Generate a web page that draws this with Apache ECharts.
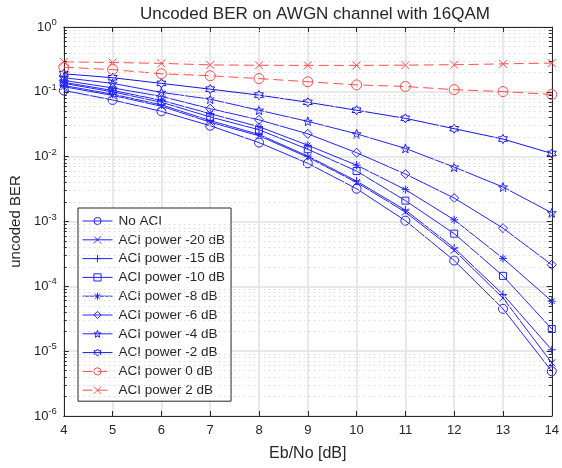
<!DOCTYPE html>
<html>
<head>
<meta charset="utf-8">
<script src="https://cdn.jsdelivr.net/npm/echarts@6/dist/echarts.min.js"></script>
<style>
  html, body { margin: 0; padding: 0; background: #fff; }
  #chart { width: 562px; height: 468px; }
</style>
</head>
<body>
<div id="chart"></div>
<script>
// Eb/No axis
const ebno = [4, 5, 6, 7, 8, 9, 10, 11, 12, 13, 14];

// BER values
const berNoAci = [0.105, 0.075, 0.05, 0.030, 0.0165, 0.0079, 0.0032, 0.00103, 0.00025, 0.000045, 0.0000049];
const berAciM20 = [0.12, 0.088, 0.06, 0.034, 0.021, 0.0098, 0.0040, 0.0014, 0.00036, 0.000066, 0.0000066];
const berAciM15 = [0.125, 0.092, 0.063, 0.036, 0.022, 0.0102, 0.0042, 0.0015, 0.00039, 0.000075, 0.0000105];
const berAciM10 = [0.135, 0.10, 0.069, 0.041, 0.026, 0.0130, 0.0060, 0.0021, 0.00065, 0.000145, 0.000022];
const berAciM8 = [0.14, 0.105, 0.074, 0.046, 0.029, 0.0150, 0.0074, 0.0031, 0.00106, 0.00027, 0.000059];
const berAciM6 = [0.15, 0.115, 0.085, 0.055, 0.037, 0.0225, 0.0115, 0.0054, 0.0023, 0.00079, 0.000215];
const berAciM4 = [0.165, 0.135, 0.098, 0.077, 0.052, 0.035, 0.0225, 0.0134, 0.0069, 0.0034, 0.00136];
const berAciM2 = [0.19, 0.165, 0.135, 0.11, 0.089, 0.069, 0.052, 0.039, 0.027, 0.0187, 0.0112];
const berAci0 = [0.24, 0.22, 0.19, 0.177, 0.16, 0.143, 0.128, 0.121, 0.108, 0.101, 0.091];
const berAci2 = [0.29, 0.283, 0.275, 0.26, 0.257, 0.256, 0.256, 0.258, 0.262, 0.27, 0.278];

const seriesNames = ['No ACI', 'ACI power -20 dB', 'ACI power -15 dB', 'ACI power -10 dB',
  'ACI power -8 dB', 'ACI power -6 dB', 'ACI power -4 dB', 'ACI power -2 dB',
  'ACI power 0 dB', 'ACI power 2 dB'];

const BLUE = '#2323ff';
const RED = '#ff4d4d';
const INK = '#262626';
const FONT = '"Liberation Sans", Arial, sans-serif';

// marker shapes (matlab style, outline only)
function starPath(n, rIn) {
  const pts = [];
  for (let i = 0; i < 2 * n; i++) {
    const r = i % 2 ? rIn : 1;
    const a = -Math.PI / 2 + i * Math.PI / n;
    pts.push((10 + 10 * r * Math.cos(a)).toFixed(2) + ',' + (10 + 10 * r * Math.sin(a)).toFixed(2));
  }
  return 'path://M' + pts.join('L') + 'Z';
}
const symX = 'path://M0,0L10,10M10,0L0,10';
const symPlus = 'path://M5,0L5,10M0,5L10,5';
const symStar = 'path://M5,0L5,10M0,5L10,5M1.5,1.5L8.5,8.5M8.5,1.5L1.5,8.5';
const symPenta = starPath(5, 0.4);
const symHexa = starPath(6, 0.58);

function makeSeries(name, values, symbol, size, color, dashed) {
  return {
    name: name,
    type: 'line',
    data: ebno.map((x, i) => [x, values[i]]),
    symbol: symbol,
    symbolSize: size,
    showAllSymbol: true,
    z: 3,
    lineStyle: { color: color, width: 1, type: dashed ? [10, 5] : 'solid' },
    itemStyle: { color: 'transparent', borderColor: color, borderWidth: 1 },
    emphasis: { disabled: true }
  };
}

// minor grid values 2..9 per decade
const minorVals = [];
for (let e = -6; e < 0; e++) {
  for (let m = 2; m <= 9; m++) minorVals.push(m * Math.pow(10, e));
}

const chart = echarts.init(document.getElementById('chart'));

const option = {
  animation: false,
  backgroundColor: '#fff',
  textStyle: { fontFamily: FONT },
  title: {
    text: 'Uncoded BER on AWGN channel with 16QAM',
    left: 310,
    textAlign: 'center',
    top: 1,
    textStyle: { fontFamily: FONT, fontSize: 17, fontWeight: 'normal', color: INK }
  },
  legend: {
    data: seriesNames,
    orient: 'vertical',
    left: 78,
    top: 208,
    itemWidth: 30,
    itemHeight: 9,
    itemGap: 4.8,
    padding: [6, 6, 4, 4],
    backgroundColor: '#fff',
    borderColor: INK,
    borderWidth: 1,
    borderRadius: 0,
    itemStyle: { color: 'transparent', borderWidth: 1 },
    lineStyle: { width: 1 },
    textStyle: { fontFamily: FONT, fontSize: 13.5, color: INK, padding: [0, 0, 0, 1] }
  },
  grid: { left: 63, right: 7, top: 27, bottom: 52, containLabel: false },
  xAxis: [{
    type: 'value',
    min: 4,
    max: 14,
    interval: 1,
    name: 'Eb/No [dB]',
    nameLocation: 'middle',
    nameGap: 30,
    nameTextStyle: { fontFamily: FONT, fontSize: 16, color: INK },
    axisLine: { lineStyle: { color: INK, width: 1 } },
    axisTick: { inside: true, length: 5, lineStyle: { color: INK } },
    axisLabel: { color: INK, fontSize: 13, margin: 8, fontFamily: FONT },
    splitLine: { show: true, lineStyle: { color: '#e2e2e2', width: 1.5 } }
  }, {
    type: 'value',
    position: 'top',
    min: 4,
    max: 14,
    interval: 1,
    axisLine: { show: true, lineStyle: { color: INK, width: 1 } },
    axisTick: { inside: true, length: 5, lineStyle: { color: INK } },
    axisLabel: { show: false },
    splitLine: { show: false }
  }],
  yAxis: [{
    type: 'log',
    logBase: 10,
    min: 1e-6,
    max: 1,
    splitNumber: 6,
    name: 'uncoded BER',
    nameLocation: 'middle',
    nameGap: 40,
    nameTextStyle: { fontFamily: FONT, fontSize: 15, color: INK },
    axisLine: { show: true, lineStyle: { color: INK, width: 1 } },
    axisTick: { inside: true, length: 5, lineStyle: { color: INK } },
    axisLabel: {
      margin: 7,
      formatter: v => '{b|10}{s|' + Math.round(Math.log10(v)) + '}',
      rich: {
        b: { fontSize: 13, color: INK, fontFamily: FONT },
        s: { fontSize: 9.5, color: INK, fontFamily: FONT, padding: [0, 0, 9, 0] }
      }
    },
    splitLine: { show: true, lineStyle: { color: '#e2e2e2', width: 1.5 } }
  }, {
    type: 'log',
    logBase: 10,
    min: 1e-6,
    max: 1,
    splitNumber: 6,
    position: 'right',
    axisLine: { show: true, lineStyle: { color: INK, width: 1 } },
    axisTick: { inside: true, length: 5, lineStyle: { color: INK } },
    axisLabel: { show: false },
    splitLine: { show: false }
  }],
  series: [
    {
      name: 'minor grid',
      type: 'line',
      data: [],
      z: 1,
      silent: true,
      markLine: {
        silent: true,
        precision: 12,
        symbol: 'none',
        label: { show: false },
        lineStyle: { color: '#d9d9d9', width: 1, type: [1.5, 3.5] },
        data: minorVals.map(v => [{ coord: [4, v] }, { coord: [14, v] }])
      }
    },
    {
      name: 'minor ticks',
      type: 'line',
      data: [],
      z: 2,
      silent: true,
      markLine: {
        silent: true,
        precision: 12,
        symbol: 'none',
        label: { show: false },
        lineStyle: { color: INK, width: 1, type: 'solid' },
        data: minorVals.map(v => [{ coord: [4, v] }, { coord: [4.06, v] }])
          .concat(minorVals.map(v => [{ coord: [13.94, v] }, { coord: [14, v] }]))
      }
    },
    makeSeries(seriesNames[0], berNoAci, 'circle', 9, BLUE),
    makeSeries(seriesNames[1], berAciM20, symX, 7, BLUE),
    makeSeries(seriesNames[2], berAciM15, symPlus, 8, BLUE),
    makeSeries(seriesNames[3], berAciM10, 'rect', 7, BLUE),
    makeSeries(seriesNames[4], berAciM8, symStar, 8, BLUE),
    makeSeries(seriesNames[5], berAciM6, 'diamond', 9, BLUE),
    makeSeries(seriesNames[6], berAciM4, symPenta, 9, BLUE),
    makeSeries(seriesNames[7], berAciM2, symHexa, 9, '#1515e6'),
    makeSeries(seriesNames[8], berAci0, 'circle', 10, RED, true),
    makeSeries(seriesNames[9], berAci2, symX, 8, RED, true)
  ]
};

chart.setOption(option);
window.addEventListener('resize', chart.resize);
</script>
</body>
</html>
